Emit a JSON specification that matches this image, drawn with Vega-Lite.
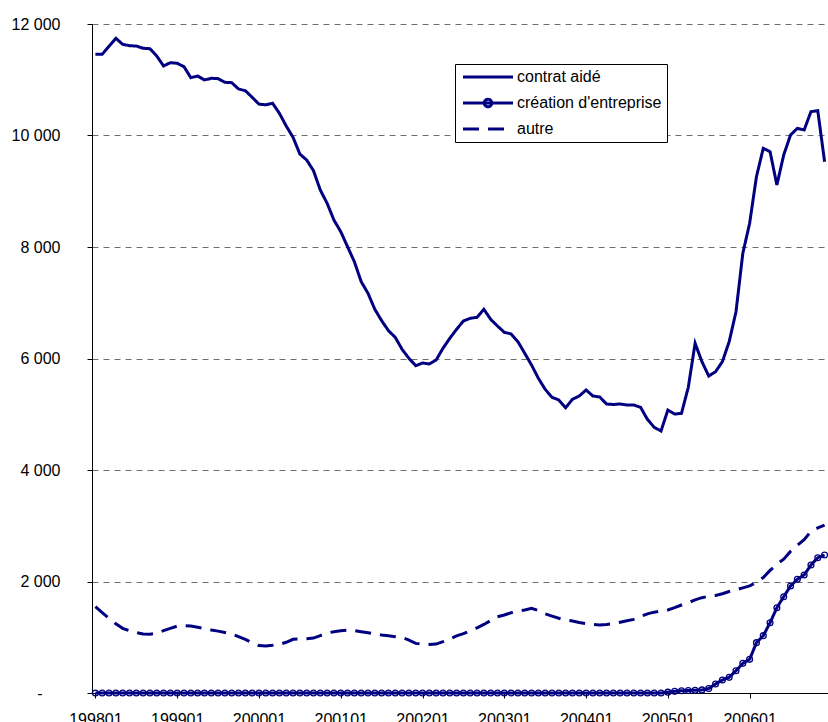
{
"$schema": "https://vega.github.io/schema/vega-lite/v6.json",
"width": 736, "height": 669,
"autosize": {"type": "none"},
"padding": {"left": 92, "top": 24, "right": 0, "bottom": 29},
"background": "white",
"config": {"view": {"stroke": null}, "font": "Liberation Sans"},
"data": {"values": [
{"m":"199801","s":"contrat aidé","v":11457},{"m":"199802","s":"contrat aidé","v":11457},{"m":"199803","s":"contrat aidé","v":11600},{"m":"199804","s":"contrat aidé","v":11744},{"m":"199805","s":"contrat aidé","v":11636},{"m":"199806","s":"contrat aidé","v":11611},{"m":"199807","s":"contrat aidé","v":11605},{"m":"199808","s":"contrat aidé","v":11564},{"m":"199809","s":"contrat aidé","v":11557},{"m":"199810","s":"contrat aidé","v":11426},{"m":"199811","s":"contrat aidé","v":11247},{"m":"199812","s":"contrat aidé","v":11306},
{"m":"199901","s":"contrat aidé","v":11295},{"m":"199902","s":"contrat aidé","v":11234},{"m":"199903","s":"contrat aidé","v":11037},{"m":"199904","s":"contrat aidé","v":11067},{"m":"199905","s":"contrat aidé","v":10996},{"m":"199906","s":"contrat aidé","v":11026},{"m":"199907","s":"contrat aidé","v":11020},{"m":"199908","s":"contrat aidé","v":10954},{"m":"199909","s":"contrat aidé","v":10948},{"m":"199910","s":"contrat aidé","v":10834},{"m":"199911","s":"contrat aidé","v":10804},{"m":"199912","s":"contrat aidé","v":10685},
{"m":"200001","s":"contrat aidé","v":10562},{"m":"200002","s":"contrat aidé","v":10550},{"m":"200003","s":"contrat aidé","v":10578},{"m":"200004","s":"contrat aidé","v":10398},{"m":"200005","s":"contrat aidé","v":10170},{"m":"200006","s":"contrat aidé","v":9967},{"m":"200007","s":"contrat aidé","v":9668},{"m":"200008","s":"contrat aidé","v":9561},{"m":"200009","s":"contrat aidé","v":9369},{"m":"200010","s":"contrat aidé","v":9022},{"m":"200011","s":"contrat aidé","v":8784},{"m":"200012","s":"contrat aidé","v":8484},
{"m":"200101","s":"contrat aidé","v":8275},{"m":"200102","s":"contrat aidé","v":8005},{"m":"200103","s":"contrat aidé","v":7736},{"m":"200104","s":"contrat aidé","v":7378},{"m":"200105","s":"contrat aidé","v":7170},{"m":"200106","s":"contrat aidé","v":6883},{"m":"200107","s":"contrat aidé","v":6678},{"m":"200108","s":"contrat aidé","v":6499},{"m":"200109","s":"contrat aidé","v":6380},{"m":"200110","s":"contrat aidé","v":6165},{"m":"200111","s":"contrat aidé","v":6004},{"m":"200112","s":"contrat aidé","v":5871},
{"m":"200201","s":"contrat aidé","v":5920},{"m":"200202","s":"contrat aidé","v":5901},{"m":"200203","s":"contrat aidé","v":5973},{"m":"200204","s":"contrat aidé","v":6183},{"m":"200205","s":"contrat aidé","v":6362},{"m":"200206","s":"contrat aidé","v":6524},{"m":"200207","s":"contrat aidé","v":6673},{"m":"200208","s":"contrat aidé","v":6721},{"m":"200209","s":"contrat aidé","v":6739},{"m":"200210","s":"contrat aidé","v":6883},{"m":"200211","s":"contrat aidé","v":6703},{"m":"200212","s":"contrat aidé","v":6583},
{"m":"200301","s":"contrat aidé","v":6470},{"m":"200302","s":"contrat aidé","v":6440},{"m":"200303","s":"contrat aidé","v":6302},{"m":"200304","s":"contrat aidé","v":6093},{"m":"200305","s":"contrat aidé","v":5883},{"m":"200306","s":"contrat aidé","v":5645},{"m":"200307","s":"contrat aidé","v":5447},{"m":"200308","s":"contrat aidé","v":5304},{"m":"200309","s":"contrat aidé","v":5256},{"m":"200310","s":"contrat aidé","v":5117},{"m":"200311","s":"contrat aidé","v":5268},{"m":"200312","s":"contrat aidé","v":5327},
{"m":"200401","s":"contrat aidé","v":5435},{"m":"200402","s":"contrat aidé","v":5327},{"m":"200403","s":"contrat aidé","v":5310},{"m":"200404","s":"contrat aidé","v":5184},{"m":"200405","s":"contrat aidé","v":5175},{"m":"200406","s":"contrat aidé","v":5184},{"m":"200407","s":"contrat aidé","v":5166},{"m":"200408","s":"contrat aidé","v":5166},{"m":"200409","s":"contrat aidé","v":5124},{"m":"200410","s":"contrat aidé","v":4909},{"m":"200411","s":"contrat aidé","v":4765},{"m":"200412","s":"contrat aidé","v":4700},
{"m":"200501","s":"contrat aidé","v":5076},{"m":"200502","s":"contrat aidé","v":5004},{"m":"200503","s":"contrat aidé","v":5016},{"m":"200504","s":"contrat aidé","v":5484},{"m":"200505","s":"contrat aidé","v":6273},{"m":"200506","s":"contrat aidé","v":5943},{"m":"200507","s":"contrat aidé","v":5686},{"m":"200508","s":"contrat aidé","v":5763},{"m":"200509","s":"contrat aidé","v":5943},{"m":"200510","s":"contrat aidé","v":6302},{"m":"200511","s":"contrat aidé","v":6839},{"m":"200512","s":"contrat aidé","v":7887},
{"m":"200601","s":"contrat aidé","v":8425},{"m":"200602","s":"contrat aidé","v":9261},{"m":"200603","s":"contrat aidé","v":9770},{"m":"200604","s":"contrat aidé","v":9710},{"m":"200605","s":"contrat aidé","v":9112},{"m":"200606","s":"contrat aidé","v":9650},{"m":"200607","s":"contrat aidé","v":10009},{"m":"200608","s":"contrat aidé","v":10129},{"m":"200609","s":"contrat aidé","v":10099},{"m":"200610","s":"contrat aidé","v":10427},{"m":"200611","s":"contrat aidé","v":10445},{"m":"200612","s":"contrat aidé","v":9530},
{"m":"199801","s":"autre","v":1548},{"m":"199802","s":"autre","v":1440},{"m":"199803","s":"autre","v":1340},{"m":"199804","s":"autre","v":1240},{"m":"199805","s":"autre","v":1160},{"m":"199806","s":"autre","v":1115},{"m":"199807","s":"autre","v":1085},{"m":"199808","s":"autre","v":1060},{"m":"199809","s":"autre","v":1055},{"m":"199810","s":"autre","v":1070},{"m":"199811","s":"autre","v":1118},{"m":"199812","s":"autre","v":1160},
{"m":"199901","s":"autre","v":1200},{"m":"199902","s":"autre","v":1210},{"m":"199903","s":"autre","v":1200},{"m":"199904","s":"autre","v":1180},{"m":"199905","s":"autre","v":1155},{"m":"199906","s":"autre","v":1130},{"m":"199907","s":"autre","v":1110},{"m":"199908","s":"autre","v":1085},{"m":"199909","s":"autre","v":1060},{"m":"199910","s":"autre","v":1010},{"m":"199911","s":"autre","v":960},{"m":"199912","s":"autre","v":900},
{"m":"200001","s":"autre","v":850},{"m":"200002","s":"autre","v":845},{"m":"200003","s":"autre","v":855},{"m":"200004","s":"autre","v":873},{"m":"200005","s":"autre","v":910},{"m":"200006","s":"autre","v":963},{"m":"200007","s":"autre","v":970},{"m":"200008","s":"autre","v":975},{"m":"200009","s":"autre","v":985},{"m":"200010","s":"autre","v":1030},{"m":"200011","s":"autre","v":1075},{"m":"200012","s":"autre","v":1100},
{"m":"200101","s":"autre","v":1115},{"m":"200102","s":"autre","v":1130},{"m":"200103","s":"autre","v":1120},{"m":"200104","s":"autre","v":1100},{"m":"200105","s":"autre","v":1080},{"m":"200106","s":"autre","v":1060},{"m":"200107","s":"autre","v":1040},{"m":"200108","s":"autre","v":1025},{"m":"200109","s":"autre","v":1010},{"m":"200110","s":"autre","v":995},{"m":"200111","s":"autre","v":950},{"m":"200112","s":"autre","v":890},
{"m":"200201","s":"autre","v":875},{"m":"200202","s":"autre","v":872},{"m":"200203","s":"autre","v":877},{"m":"200204","s":"autre","v":920},{"m":"200205","s":"autre","v":970},{"m":"200206","s":"autre","v":1025},{"m":"200207","s":"autre","v":1065},{"m":"200208","s":"autre","v":1115},{"m":"200209","s":"autre","v":1170},{"m":"200210","s":"autre","v":1230},{"m":"200211","s":"autre","v":1300},{"m":"200212","s":"autre","v":1369},
{"m":"200301","s":"autre","v":1400},{"m":"200302","s":"autre","v":1440},{"m":"200303","s":"autre","v":1465},{"m":"200304","s":"autre","v":1490},{"m":"200305","s":"autre","v":1519},{"m":"200306","s":"autre","v":1480},{"m":"200307","s":"autre","v":1420},{"m":"200308","s":"autre","v":1380},{"m":"200309","s":"autre","v":1340},{"m":"200310","s":"autre","v":1309},{"m":"200311","s":"autre","v":1290},{"m":"200312","s":"autre","v":1265},
{"m":"200401","s":"autre","v":1245},{"m":"200402","s":"autre","v":1232},{"m":"200403","s":"autre","v":1222},{"m":"200404","s":"autre","v":1230},{"m":"200405","s":"autre","v":1245},{"m":"200406","s":"autre","v":1270},{"m":"200407","s":"autre","v":1295},{"m":"200408","s":"autre","v":1320},{"m":"200409","s":"autre","v":1370},{"m":"200410","s":"autre","v":1420},{"m":"200411","s":"autre","v":1450},{"m":"200412","s":"autre","v":1470},
{"m":"200501","s":"autre","v":1489},{"m":"200502","s":"autre","v":1530},{"m":"200503","s":"autre","v":1578},{"m":"200504","s":"autre","v":1620},{"m":"200505","s":"autre","v":1670},{"m":"200506","s":"autre","v":1710},{"m":"200507","s":"autre","v":1735},{"m":"200508","s":"autre","v":1750},{"m":"200509","s":"autre","v":1780},{"m":"200510","s":"autre","v":1820},{"m":"200511","s":"autre","v":1850},{"m":"200512","s":"autre","v":1885},
{"m":"200601","s":"autre","v":1920},{"m":"200602","s":"autre","v":1990},{"m":"200603","s":"autre","v":2070},{"m":"200604","s":"autre","v":2200},{"m":"200605","s":"autre","v":2310},{"m":"200606","s":"autre","v":2400},{"m":"200607","s":"autre","v":2540},{"m":"200608","s":"autre","v":2650},{"m":"200609","s":"autre","v":2750},{"m":"200610","s":"autre","v":2900},{"m":"200611","s":"autre","v":2960},{"m":"200612","s":"autre","v":3013},
{"m":"199801","s":"création d'entreprise","v":0},{"m":"199802","s":"création d'entreprise","v":0},{"m":"199803","s":"création d'entreprise","v":0},{"m":"199804","s":"création d'entreprise","v":0},{"m":"199805","s":"création d'entreprise","v":0},{"m":"199806","s":"création d'entreprise","v":0},{"m":"199807","s":"création d'entreprise","v":0},{"m":"199808","s":"création d'entreprise","v":0},{"m":"199809","s":"création d'entreprise","v":0},{"m":"199810","s":"création d'entreprise","v":0},{"m":"199811","s":"création d'entreprise","v":0},{"m":"199812","s":"création d'entreprise","v":0},
{"m":"199901","s":"création d'entreprise","v":0},{"m":"199902","s":"création d'entreprise","v":0},{"m":"199903","s":"création d'entreprise","v":0},{"m":"199904","s":"création d'entreprise","v":0},{"m":"199905","s":"création d'entreprise","v":0},{"m":"199906","s":"création d'entreprise","v":0},{"m":"199907","s":"création d'entreprise","v":0},{"m":"199908","s":"création d'entreprise","v":0},{"m":"199909","s":"création d'entreprise","v":0},{"m":"199910","s":"création d'entreprise","v":0},{"m":"199911","s":"création d'entreprise","v":0},{"m":"199912","s":"création d'entreprise","v":0},
{"m":"200001","s":"création d'entreprise","v":0},{"m":"200002","s":"création d'entreprise","v":0},{"m":"200003","s":"création d'entreprise","v":0},{"m":"200004","s":"création d'entreprise","v":0},{"m":"200005","s":"création d'entreprise","v":0},{"m":"200006","s":"création d'entreprise","v":0},{"m":"200007","s":"création d'entreprise","v":0},{"m":"200008","s":"création d'entreprise","v":0},{"m":"200009","s":"création d'entreprise","v":0},{"m":"200010","s":"création d'entreprise","v":0},{"m":"200011","s":"création d'entreprise","v":0},{"m":"200012","s":"création d'entreprise","v":0},
{"m":"200101","s":"création d'entreprise","v":0},{"m":"200102","s":"création d'entreprise","v":0},{"m":"200103","s":"création d'entreprise","v":0},{"m":"200104","s":"création d'entreprise","v":0},{"m":"200105","s":"création d'entreprise","v":0},{"m":"200106","s":"création d'entreprise","v":0},{"m":"200107","s":"création d'entreprise","v":0},{"m":"200108","s":"création d'entreprise","v":0},{"m":"200109","s":"création d'entreprise","v":0},{"m":"200110","s":"création d'entreprise","v":0},{"m":"200111","s":"création d'entreprise","v":0},{"m":"200112","s":"création d'entreprise","v":0},
{"m":"200201","s":"création d'entreprise","v":0},{"m":"200202","s":"création d'entreprise","v":0},{"m":"200203","s":"création d'entreprise","v":0},{"m":"200204","s":"création d'entreprise","v":0},{"m":"200205","s":"création d'entreprise","v":0},{"m":"200206","s":"création d'entreprise","v":0},{"m":"200207","s":"création d'entreprise","v":0},{"m":"200208","s":"création d'entreprise","v":0},{"m":"200209","s":"création d'entreprise","v":0},{"m":"200210","s":"création d'entreprise","v":0},{"m":"200211","s":"création d'entreprise","v":0},{"m":"200212","s":"création d'entreprise","v":0},
{"m":"200301","s":"création d'entreprise","v":0},{"m":"200302","s":"création d'entreprise","v":0},{"m":"200303","s":"création d'entreprise","v":0},{"m":"200304","s":"création d'entreprise","v":0},{"m":"200305","s":"création d'entreprise","v":0},{"m":"200306","s":"création d'entreprise","v":0},{"m":"200307","s":"création d'entreprise","v":0},{"m":"200308","s":"création d'entreprise","v":0},{"m":"200309","s":"création d'entreprise","v":0},{"m":"200310","s":"création d'entreprise","v":0},{"m":"200311","s":"création d'entreprise","v":0},{"m":"200312","s":"création d'entreprise","v":0},
{"m":"200401","s":"création d'entreprise","v":0},{"m":"200402","s":"création d'entreprise","v":0},{"m":"200403","s":"création d'entreprise","v":0},{"m":"200404","s":"création d'entreprise","v":0},{"m":"200405","s":"création d'entreprise","v":0},{"m":"200406","s":"création d'entreprise","v":0},{"m":"200407","s":"création d'entreprise","v":0},{"m":"200408","s":"création d'entreprise","v":0},{"m":"200409","s":"création d'entreprise","v":0},{"m":"200410","s":"création d'entreprise","v":0},{"m":"200411","s":"création d'entreprise","v":0},{"m":"200412","s":"création d'entreprise","v":0},
{"m":"200501","s":"création d'entreprise","v":15},{"m":"200502","s":"création d'entreprise","v":30},{"m":"200503","s":"création d'entreprise","v":40},{"m":"200504","s":"création d'entreprise","v":45},{"m":"200505","s":"création d'entreprise","v":50},{"m":"200506","s":"création d'entreprise","v":55},{"m":"200507","s":"création d'entreprise","v":80},{"m":"200508","s":"création d'entreprise","v":161},{"m":"200509","s":"création d'entreprise","v":233},{"m":"200510","s":"création d'entreprise","v":281},{"m":"200511","s":"création d'entreprise","v":400},{"m":"200512","s":"création d'entreprise","v":532},
{"m":"200601","s":"création d'entreprise","v":604},{"m":"200602","s":"création d'entreprise","v":903},{"m":"200603","s":"création d'entreprise","v":1028},{"m":"200604","s":"création d'entreprise","v":1261},{"m":"200605","s":"création d'entreprise","v":1530},{"m":"200606","s":"création d'entreprise","v":1727},{"m":"200607","s":"création d'entreprise","v":1919},{"m":"200608","s":"création d'entreprise","v":2039},{"m":"200609","s":"création d'entreprise","v":2117},{"m":"200610","s":"création d'entreprise","v":2296},{"m":"200611","s":"création d'entreprise","v":2427},{"m":"200612","s":"création d'entreprise","v":2475}
]},
"encoding": {
  "x": {"field": "m", "type": "ordinal", "sort": "ascending", "scale": {"type": "point", "padding": 0.5},
    "axis": {"values": ["199801","199901","200001","200101","200201","200301","200401","200501","200601"], "title": null, "grid": false, "domainColor": "black", "domainWidth": 1, "tickColor": "black", "tickSize": 5, "labelPadding": 13, "labelFontSize": 16, "labelFont": "Liberation Sans", "labelColor": "black", "labelAngle": 0, "labelOverlap": false}},
  "y": {"field": "v", "type": "quantitative", "scale": {"domain": [0, 12000], "nice": false, "zero": true},
    "axis": {"values": [0,2000,4000,6000,8000,10000,12000], "title": null, "grid": true, "gridDash": [6,5], "gridColor": "#6e6e6e", "gridWidth": 1, "domainColor": "black", "tickColor": "black", "tickSize": 5,
      "labelPadding": {"condition": {"test": "datum.value == 0", "value": 45}, "value": 27},
      "labelFontSize": 16, "labelFont": "Liberation Sans", "labelColor": "black",
      "labelExpr": "datum.value == 0 ? '-' : replace(format(datum.value, ','), ',', ' ')"}}
},
"layer": [
  {"mark": {"type": "line", "strokeWidth": 3},
   "encoding": {
     "color": {"field": "s", "type": "nominal",
       "scale": {"domain": ["contrat aidé", "création d'entreprise", "autre"], "range": ["#000080", "#000080", "#000080"]},
       "legend": {"title": null, "orient": "none", "legendX": 363, "legendY": 40, "padding": 5, "strokeColor": "black", "fillColor": "white", "symbolType": "M-1,0H9", "symbolSize": 100, "symbolStrokeWidth": 3, "labelFont": "Liberation Sans", "labelFontSize": 16, "labelColor": "black", "labelOffset": 41, "rowPadding": 8, "labelLimit": 300,
         "encode": {"symbols": {"update": {"shape": {"signal": "indexof(datum.value, 'cr') == 0 ? 'M-1,0H9M4.75,0A0.75,0.75 0 1 1 3.25,0A0.75,0.75 0 1 1 4.75,0' : 'M-1,0H9'"}, "strokeDash": {"signal": "datum.value == 'autre' ? [22,15] : [1,0]"}, "fill": {"value": "transparent"}}}}}},
     "strokeDash": {"field": "s", "type": "nominal",
       "scale": {"domain": ["contrat aidé", "création d'entreprise", "autre"], "range": [[1,0],[1,0],[16,9]]},
       "legend": {"title": null, "orient": "none", "legendX": 363, "legendY": 40, "padding": 5, "strokeColor": "black", "fillColor": "white", "symbolType": "M-1,0H9", "symbolSize": 100, "symbolStrokeWidth": 3, "labelFont": "Liberation Sans", "labelFontSize": 16, "labelColor": "black", "labelOffset": 41, "rowPadding": 8, "labelLimit": 300,
         "encode": {"symbols": {"update": {"shape": {"signal": "indexof(datum.value, 'cr') == 0 ? 'M-1,0H9M4.75,0A0.75,0.75 0 1 1 3.25,0A0.75,0.75 0 1 1 4.75,0' : 'M-1,0H9'"}, "strokeDash": {"signal": "datum.value == 'autre' ? [22,15] : [1,0]"}, "fill": {"value": "transparent"}}}}}}
   }},
  {"transform": [{"filter": {"field": "s", "equal": "création d'entreprise"}}],
   "mark": {"type": "point", "shape": "circle", "size": 34, "filled": false, "stroke": "#000080", "strokeWidth": 1.3, "opacity": 1}}
]
}
